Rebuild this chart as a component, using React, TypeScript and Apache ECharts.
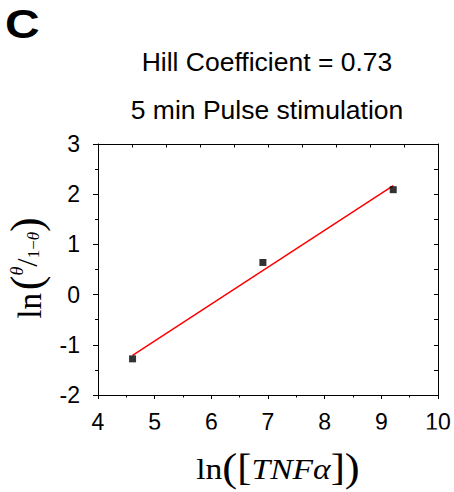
import React, { useEffect, useRef } from "react";
import * as echarts from "echarts";

// Data
const lnTNF = [4.61, 6.91, 9.21];
const lnTheta = [-1.28, 0.64, 2.09];
const fitX = [4.61, 9.21];
const fitY = [-1.21, 2.17];

const xMin = 4;
const xMax = 10;
const yMin = -2;
const yMax = 3;

const titleLines = ["Hill Coefficient = 0.73", "5 min Pulse stimulation"];
const panelLabel = "C";

const SANS = '"Liberation Sans", Arial, Helvetica, sans-serif';
const SERIF = '"Liberation Serif", "Times New Roman", Times, serif';

export default function App() {
  const ref = useRef<HTMLDivElement>(null);

  useEffect(() => {
    if (!ref.current) return;
    const chart = echarts.init(ref.current, null, { renderer: "svg" });

    const grid = { left: 98, top: 144, width: 340, height: 251 };
    const cx = grid.left + grid.width / 2;

    const option: any = {
      animation: false,
      backgroundColor: "#fff",
      grid: { ...grid, containLabel: false },
      xAxis: [
        {
          type: "value",
          position: "bottom",
          min: xMin,
          max: xMax,
          interval: 1,
          axisLine: { show: true, onZero: false, lineStyle: { color: "#000", width: 1 } },
          axisTick: { show: true, inside: false, length: 4, lineStyle: { color: "#000", width: 1 } },
          minorTick: { show: true, splitNumber: 2, length: 2.5, lineStyle: { color: "#000", width: 1 } },
          axisLabel: { show: true, color: "#000", fontSize: 23, fontFamily: SANS, margin: 15 },
          splitLine: { show: false },
        },
        {
          type: "value",
          position: "top",
          min: 0,
          max: xMax - xMin,
          interval: 0.6,
          axisLine: { show: true, onZero: false, lineStyle: { color: "#000", width: 1 } },
          axisTick: { show: true, inside: true, length: 3.5, lineStyle: { color: "#000", width: 1 } },
          axisLabel: { show: false },
          splitLine: { show: false },
        },
      ],
      yAxis: [
        {
          type: "value",
          position: "left",
          min: yMin,
          max: yMax,
          interval: 1,
          axisLine: { show: true, onZero: false, lineStyle: { color: "#000", width: 1 } },
          axisTick: { show: true, inside: false, length: 5, lineStyle: { color: "#000", width: 1 } },
          minorTick: { show: true, splitNumber: 2, length: 3, lineStyle: { color: "#000", width: 1 } },
          axisLabel: { show: true, color: "#000", fontSize: 23, fontFamily: SANS, margin: 18 },
          splitLine: { show: false },
        },
        {
          type: "value",
          position: "right",
          min: yMin,
          max: yMax,
          interval: 1,
          axisLine: { show: true, onZero: false, lineStyle: { color: "#000", width: 1 } },
          axisTick: { show: true, inside: true, length: 4, lineStyle: { color: "#000", width: 1 } },
          minorTick: { show: true, splitNumber: 2, length: 4, lineStyle: { color: "#000", width: 1 } },
          axisLabel: { show: false },
          splitLine: { show: false },
        },
      ],
      series: [
        {
          type: "line",
          xAxisIndex: 0,
          yAxisIndex: 0,
          data: fitX.map((x, i) => [x, fitY[i]]),
          showSymbol: false,
          symbol: "none",
          lineStyle: { color: "#ff0000", width: 1.5 },
          z: 2,
        },
        {
          type: "scatter",
          xAxisIndex: 0,
          yAxisIndex: 0,
          data: lnTNF.map((x, i) => [x, lnTheta[i]]),
          symbol: "rect",
          symbolSize: 7,
          itemStyle: { color: "#000" },
          z: 3,
        },
      ],
      graphic: [
        {
          type: "text",
          x: 5,
          y: 24,
          scaleX: 1.2,
          style: {
            text: panelLabel,
            font: `bold 40px ${SANS}`,
            fill: "#000",
            textAlign: "left",
            textVerticalAlign: "middle",
          },
        },
        {
          type: "text",
          x: cx - 1,
          y: 62,
          style: {
            text: titleLines[0],
            font: `26.5px ${SANS}`,
            fill: "#000",
            textAlign: "center",
            textVerticalAlign: "middle",
          },
        },
        {
          type: "text",
          x: cx - 1,
          y: 110,
          style: {
            text: titleLines[1],
            font: `26.5px ${SANS}`,
            fill: "#000",
            textAlign: "center",
            textVerticalAlign: "middle",
          },
        },
        // y-axis title ln(θ / 1−θ)
        {
          type: "text",
          x: 26,
          y: 268,
          rotation: Math.PI / 2,
          style: {
            text: "{ln|ln}{p|(}{num|θ}{sl|/}{den|1−}{denT|θ}{p|)}",
            fill: "#000",
            textAlign: "center",
            textVerticalAlign: "middle",
            rich: {
              ln: { fontFamily: SERIF, fontSize: 33, fill: "#000", verticalAlign: "bottom", padding: [0, 3, 2, 0] },
              p: { fontFamily: SERIF, fontSize: 44, fill: "#000", verticalAlign: "bottom" },
              num: { fontFamily: SERIF, fontSize: 18, fontStyle: "italic", fill: "#000", verticalAlign: "top", padding: [4, 0, 0, 0] },
              sl: { fontFamily: SERIF, fontSize: 30, fill: "#000", verticalAlign: "middle" },
              den: { fontFamily: SERIF, fontSize: 17, fill: "#000", verticalAlign: "bottom", padding: [0, 0, 6, 0] },
              denT: { fontFamily: SERIF, fontSize: 17, fontStyle: "italic", fill: "#000", verticalAlign: "bottom", padding: [0, 0, 6, 0] },
            },
          },
        },
        // x-axis title ln([TNFα])
        {
          type: "text",
          x: 278,
          y: 467,
          scaleX: 1.12,
          style: {
            text: "{ln|ln}{p|(}{b|[}{it|TNFα}{b|]}{p|)}",
            fill: "#000",
            textAlign: "center",
            textVerticalAlign: "middle",
            rich: {
              ln: { fontFamily: SERIF, fontSize: 30, fill: "#000", verticalAlign: "bottom", padding: [0, 0, 3, 0] },
              p: { fontFamily: SERIF, fontSize: 40, fill: "#000", verticalAlign: "bottom" },
              b: { fontFamily: SERIF, fontSize: 38, fill: "#000", verticalAlign: "bottom", padding: [0, 0, 1, 0] },
              it: { fontFamily: SERIF, fontSize: 30, fontStyle: "italic", fill: "#000", verticalAlign: "bottom", padding: [0, 0, 3, 0] },
            },
          },
        },
        // the reference's tick labels are clipped at their bottoms
        {
          type: "rect",
          shape: { x: 108, y: 429.5, width: 148, height: 4 },
          style: { fill: "#fff" },
          z: 100,
        },
        {
          type: "rect",
          shape: { x: 282, y: 429.5, width: 172, height: 4 },
          style: { fill: "#fff" },
          z: 100,
        },
      ],
    };

    chart.setOption(option);
    return () => chart.dispose();
  }, []);

  return (
    <div
      ref={ref}
      style={{ position: "fixed", left: 0, top: 0, width: 454, height: 492, background: "#fff" }}
    />
  );
}
